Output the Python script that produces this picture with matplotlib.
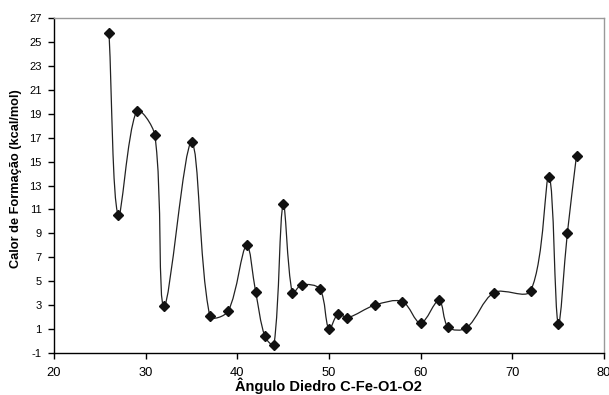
import numpy as np
import matplotlib
matplotlib.use("Agg")
import matplotlib.pyplot as plt
from matplotlib.path import Path
from matplotlib.patches import PathPatch

plt.rcParams['font.family'] = ['Liberation Sans', 'DejaVu Sans']
plt.rcParams['axes.unicode_minus'] = False

# dihedral angle (deg) and heat of formation (kcal/mol)
angulo = [26, 27, 29, 31, 32, 35, 37, 39, 41, 42, 43, 44, 45, 46, 47, 49,
          50, 51, 52, 55, 58, 60, 62, 63, 65, 68, 72, 74, 75, 76, 77]
calor = [25.75, 10.5, 19.2, 17.2, 2.9, 16.6, 2.1, 2.5, 8.0, 4.1, 0.4, -0.3,
         11.45, 4.0, 4.7, 4.35, 1.0, 2.3, 1.95, 3.0, 3.3, 1.5, 3.4, 1.15,
         1.1, 4.05, 4.2, 13.75, 1.45, 9.0, 15.5]

x_ticks = list(range(20, 81, 10))
y_ticks = list(range(-1, 28, 2))

# axes box in pixels (figure is 609x395)
AX_LEFT, AX_TOP, AX_W, AX_H = 54, 18, 550, 335


def smooth_path(xs, ys, sx, sy):
    # Excel-like smoothed line: Bezier segments whose control arms are
    # weighted by neighbouring segment lengths (measured on screen)
    pts = np.column_stack([xs, ys]).astype(float)
    scr = pts * [sx, sy]
    n = len(pts)
    out_c, in_c = [], []
    for i in range(n):
        p0 = scr[i - 1] if i > 0 else scr[i]
        p1 = scr[i]
        p2 = scr[i + 1] if i + 1 < n else scr[i]
        d1 = np.hypot(*(p1 - p0))
        d2 = np.hypot(*(p2 - p1))
        tot = d1 + d2 if d1 + d2 > 0 else 1.0
        tan = p2 - p0
        out_c.append(p1 + tan * d2 / tot / 3.0)
        in_c.append(p1 - tan * d1 / tot / 3.0)
    verts = [scr[0]]
    codes = [Path.MOVETO]
    for i in range(n - 1):
        verts += [out_c[i], in_c[i + 1], scr[i + 1]]
        codes += [Path.CURVE4] * 3
    verts = np.array(verts) / [sx, sy]
    return Path(verts, codes)


fig = plt.figure(figsize=(6.09, 3.95), dpi=100)
ax = fig.add_axes([AX_LEFT / 609, 1 - (AX_TOP + AX_H) / 395,
                   AX_W / 609, AX_H / 395])

ax.set_xlim(20, 80)
ax.set_ylim(-1, 27)
sx = AX_W / 60.0
sy = AX_H / 28.0

ax.add_patch(PathPatch(smooth_path(angulo, calor, sx, sy), facecolor='none',
                       edgecolor='#222222', lw=0.9))
ax.plot(angulo, calor, linestyle='none', marker='D', ms=5, color='#111111')

ax.set_xticks(x_ticks)
ax.set_yticks(y_ticks)
ax.tick_params(direction='out', length=4, width=1, colors='black')
ax.tick_params(axis='x', labelsize=9.3, pad=6)
ax.tick_params(axis='y', labelsize=8, pad=5)
for s in ['left', 'bottom']:
    ax.spines[s].set_color('black')
    ax.spines[s].set_linewidth(1)
for s in ['top', 'right']:
    ax.spines[s].set_color('#999999')
    ax.spines[s].set_linewidth(1)

ax.set_xlabel('Ângulo Diedro C-Fe-O1-O2', fontsize=10.5, fontweight='bold')
ax.set_ylabel('Calor de Formação (kcal/mol)', fontsize=9.2, fontweight='bold')
ax.xaxis.set_label_coords(0.499, -0.074)
ax.yaxis.set_label_coords(-0.058, 0.522)

fig.savefig('out.png', dpi=100)
